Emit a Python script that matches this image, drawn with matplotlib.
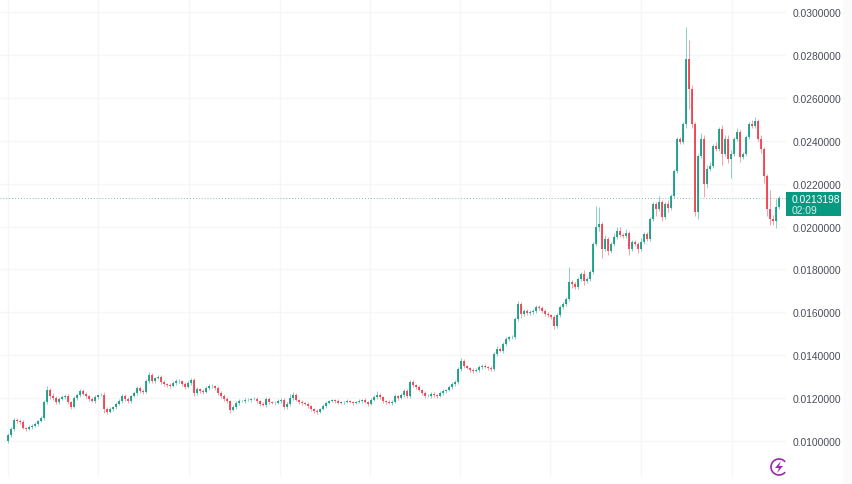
import numpy as np
import matplotlib
matplotlib.use("Agg")
import matplotlib.pyplot as plt
from matplotlib.patches import Arc, Polygon, Rectangle

UP = "#089981"
DOWN = "#F23645"
GRID = "#F5F6F8"
TEXT = "#4A4E5A"
BOLT = "#9C27B0"

closes = np.array([
    102.8, 105.6, 109.8, 109.3, 108.9, 106.1, 105.6, 106.5, 107, 107.9, 109.3, 110.7, 118.2, 123.8, 121, 120, 118.2, 119.6, 120.5, 121,
    118.2, 115.8, 120, 121.4, 123.3, 121.9, 121, 119.6, 118.6, 120.5, 121.4, 121.4, 114.9, 113.5, 114.9, 115.8, 117.2, 118.6, 121, 119.6,
    118.6, 121, 122.4, 124.7, 123.3, 122.8, 128, 130.8, 128, 129.4, 129.8, 127.5, 126.6, 126.1, 125.6, 127, 128, 128, 126.6, 125.2,
    127, 128.4, 122.4, 124.2, 123.3, 122.8, 124.7, 125.6, 125.6, 124.7, 122.4, 121, 119.6, 118.6, 114.4, 115.8, 117.7, 118.6, 118.6, 119.1,
    119.1, 119.6, 119.6, 118.6, 117.2, 116.8, 119.6, 118.2, 117.7, 117.7, 118.6, 119.1, 115.8, 117.2, 120, 121.4, 119.1, 118.2, 117.7, 117.2,
    116.3, 114.9, 114, 113.5, 114.9, 116.3, 117.7, 118.6, 119.1, 118.6, 117.7, 118.2, 118.2, 118.6, 118.2, 117.7, 118.2, 118.6, 119.1, 118.2,
    117.2, 119.1, 120.5, 121.4, 120.5, 118.6, 118.2, 117.7, 118.2, 121, 120, 121.4, 123.3, 121, 127.5, 126.1, 125.2, 123.8, 122.4, 121,
    121, 121.9, 121.4, 121, 122.4, 123.3, 123.8, 125.2, 126.6, 127.5, 133.6, 137.3, 135, 134, 133.1, 132.6, 133.1, 134.5, 135, 134.5,
    134, 133.6, 140.5, 142.9, 141.9, 145.2, 147.5, 148.5, 148.5, 156.9, 163.8, 159.2, 160.6, 159.6, 160.1, 160.6, 162.4, 161.9, 160.6, 159.2,
    158.7, 157.8, 153.6, 158.7, 162.4, 163.8, 166.2, 174.1, 173.2, 171.8, 175.5, 177.8, 174.6, 175.5, 178.8, 191.8, 199.7, 201.1, 189.5, 194.1,
    188.5, 191.8, 195.1, 197.9, 196, 195.5, 196.9, 189.5, 192.7, 191.8, 189.5, 192.7, 196.5, 194.1, 203.5, 210.4, 208.1, 211.4, 204.4, 210.4,
    208.6, 214.2, 225.8, 240.7, 239.3, 247.7, 278, 264, 247.7, 206.7, 232.8, 240.7, 219.8, 226.8, 228.2, 237.5, 236.1, 245.4, 233.7, 240.7,
    231.4, 233.7, 240.7, 243.9, 232.3, 233.7, 241.7, 247.7, 246.8, 249.1, 240.7, 236.1, 223.5, 208.1, 203.5, 202.5, 209, 213.2,
])
wick_up = np.array([
    1, 1, 1, 1, 1, 1, 0.5, 1, 1, 1, 0.5, 1, 1, 2, 1, 1.5, 1, 1, 1, 1,
    1, 0.5, 1, 1, 1, 1, 1, 0.5, 1, 1, 0.5, 1, 1.5, 1, 1, 0.5, 1, 1, 1, 1,
    1, 0.5, 1, 1, 1, 1, 1, 1.5, 1, 0.5, 1, 1, 1, 0.5, 1, 1, 1, 1, 0.5, 1,
    1, 1, 1, 1, 0.5, 1, 1, 1, 1, 0.5, 1, 1, 1, 1, 0.5, 1, 1, 1, 0.5, 1,
    1, 0.5, 1, 1, 0.5, 1, 1, 1, 0.5, 1, 1, 1, 1, 1, 2, 1.5, 1, 0.5, 1, 0.5,
    1, 0.5, 0.5, 1, 0.5, 1, 1, 0.5, 0.5, 0.5, 1, 0.5, 0.5, 1, 0.5, 0.5, 0.5, 1, 0.5, 1,
    0.5, 1, 1, 2, 1, 0.5, 0.5, 1, 1, 1, 0.5, 1, 1, 1, 1, 1, 0.5, 1, 0.5, 1,
    1, 1, 1, 0.5, 1, 1, 0.5, 1, 1, 1, 1, 1.5, 1, 0.5, 0.5, 1, 1, 1, 1, 1,
    0.5, 1, 1, 1.5, 1, 1, 1, 0.5, 1, 1, 1.5, 1, 1, 1, 1, 1, 1, 1, 1, 1,
    1, 0.5, 1, 1, 1, 1, 1, 7, 1, 1, 1, 1, 2, 1, 1, 1, 10, 8, 1, 2,
    1, 1, 2, 2, 2, 1, 2, 1, 1, 1, 1, 2, 1, 1, 1, 1, 1, 3, 1, 1,
    2, 1, 1, 1, 1, 1, 15, 9, 2, 1, 1, 3, 2, 2, 2, 1, 2, 1, 2, 2,
    2, 2, 1, 2, 1, 1, 1, 1, 2, 2, 1, 2, 1, 1, 9, 2, 4, 1,
])
wick_down = np.array([
    1, 1, 1, 1, 1, 0.5, 1, 0.5, 1, 0.5, 1, 0.5, 1, 1, 1.5, 1, 1, 1, 0.5, 1,
    1, 1, 0.5, 1, 1, 0.5, 1, 1, 0.5, 1, 1, 0.5, 2, 1, 0.5, 1, 1, 0.5, 1, 1,
    1, 1, 0.5, 1, 1, 1, 0.5, 1, 1, 1, 0.5, 1, 1, 1, 1, 0.5, 1, 1, 1, 1,
    0.5, 1, 1.5, 1, 1, 1, 0.5, 1, 1, 1, 1, 1, 1, 1, 1.5, 0.5, 1, 1, 0.5, 1,
    0.5, 1, 0.5, 1, 1, 0.5, 1, 1, 0.5, 1, 0.5, 1, 1, 1, 1, 1, 0.5, 1, 1, 0.5,
    1, 1, 1, 1, 0.5, 0.5, 1, 0.5, 0.5, 1, 0.5, 0.5, 1, 0.5, 0.5, 1, 0.5, 0.5, 1, 0.5,
    1, 0.5, 0.5, 1, 1, 1, 1, 0.5, 1, 0.5, 1, 0.5, 1, 1, 1, 1, 1, 0.5, 1, 1,
    0.5, 1, 1, 1, 0.5, 1, 1, 0.5, 1, 1, 1, 1, 1, 0.5, 1, 1, 0.5, 1, 1, 0.5,
    1, 1, 1, 1, 0.5, 1, 1, 1, 1, 1, 1, 2, 1, 1, 1, 1, 1, 1, 1, 1,
    1, 1, 1.5, 1, 1, 1, 1, 1, 2, 1, 1, 1, 2, 1, 1, 1, 1, 2, 4, 1,
    2, 1, 1, 1, 1, 1, 1, 3, 1, 1, 2, 1, 1, 1, 1, 1, 3, 1, 2, 1,
    2, 1, 1, 1, 1, 1, 2, 9, 2, 2, 3, 1, 6, 2, 1, 1, 1, 1, 5, 1,
    2, 9, 1, 1, 2, 1, 1, 1, 1, 1, 1, 2, 3, 3, 3, 2, 3, 1,
])

y_ticks = [0.01, 0.012, 0.014, 0.016, 0.018, 0.02, 0.022, 0.024, 0.026, 0.028, 0.03]
grid_candles = [0, 30, 60.3, 90.7, 120.7, 150.7, 180.7, 211, 241.3]
last_price = 0.0213198
countdown = "02:09"

scale = 1e-4
opens = np.r_[closes[0] - 2.8, closes[:-1]] * scale
closes_p = closes * scale
highs = (np.maximum(opens / scale, closes) + wick_up) * scale
lows = (np.minimum(opens / scale, closes) - wick_down) * scale
idx = np.arange(len(closes))
colors = [UP if c >= o else DOWN for o, c in zip(opens, closes_p)]

fig = plt.figure(figsize=(8.52, 4.85), dpi=100)
plt.rcParams["font.family"] = ["Liberation Sans", "DejaVu Sans"]
ax = fig.add_axes([0, 7 / 485, 786 / 852, 478 / 485])

ax.set_xlim(-8 / 3, 778 / 3)
per_px = 0.02 / 429
ax.set_ylim(0.01 - 36 * per_px, 0.03 + 13 * per_px)

for s in ax.spines.values():
    s.set_visible(False)
ax.hlines(y_ticks, *ax.get_xlim(), color=GRID, lw=1, zorder=1)
ax.vlines(grid_candles, *ax.get_ylim(), color=GRID, lw=1, zorder=1)

ax.vlines(idx, lows, highs, color=colors, lw=0.6, alpha=0.55, zorder=2)
ax.bar(idx, np.abs(closes_p - opens), bottom=np.minimum(opens, closes_p), width=0.42,
       color=colors, alpha=0.85, lw=0, zorder=3)

ax.axhline(last_price, color="#5BA89A", lw=0.6, ls=(0, (1, 2.5)), zorder=4)

ax.set_xticks([])
ax.yaxis.tick_right()
ax.set_yticks(y_ticks)
ax.set_yticklabels([f"{t:.7f}" for t in y_ticks], fontsize=7.4, color=TEXT)
ax.tick_params(axis="y", length=0, pad=5)

# price tag on the right
tag = fig.add_axes([0, 0, 1, 1], facecolor="none")
tag.set_xlim(0, 852)
tag.set_ylim(485, 0)
tag.axis("off")
tag.add_patch(Rectangle((843, 0), 9, 485, color="#FBFBFC", lw=0))
tag.add_patch(Rectangle((786, 193), 55, 24, color=UP, lw=0))
tag.text(792, 200, f"{last_price:.7f}", color="white", fontsize=7.4, va="center")
tag.text(792, 211, countdown, color="#D5F0EA", fontsize=7.4, va="center")

# bolt badge bottom right
tag.add_patch(Arc((779, 468), 16, 16, theta1=40, theta2=320, color=BOLT, lw=1.2))
tag.add_patch(Polygon([(781, 462), (775, 469), (779, 469), (777, 474), (783, 467), (779, 467)],
                      closed=True, color=BOLT, lw=0))

fig.savefig("out.png", dpi=100)
